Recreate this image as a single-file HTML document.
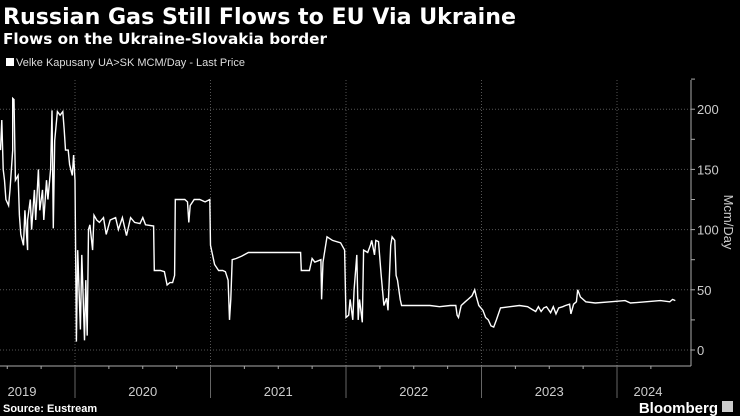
<!DOCTYPE html>
<html><head><meta charset="utf-8"><style>
body{margin:0;background:#000;width:740px;height:416px;overflow:hidden;font-family:"Liberation Sans",sans-serif;color:#fff}
svg{position:absolute;left:0;top:0}
</style></head><body>
<svg width="740" height="416">
<text x="3" y="24" font-size="22" font-weight="bold" font-family="DejaVu Sans, sans-serif" fill="#fff" textLength="513" lengthAdjust="spacingAndGlyphs">Russian Gas Still Flows to EU Via Ukraine</text>
<text x="3" y="44" font-size="15" font-weight="bold" font-family="DejaVu Sans, sans-serif" fill="#fff" textLength="324" lengthAdjust="spacingAndGlyphs">Flows on the Ukraine-Slovakia border</text>
<rect x="6" y="58" width="8" height="8" fill="#fff"/>
<text x="16" y="66" font-size="11" fill="#ddd">Velke Kapusany UA&gt;SK MCM/Day - Last Price</text>
<g id="grid"></g>
<g id="axes"></g>
<path id="line" fill="none" stroke="#fff" stroke-width="1.4"/>
<text transform="translate(724,222) rotate(90)" text-anchor="middle" font-size="13" fill="#ccc">Mcm/Day</text>
<text x="3" y="412" font-size="11" font-weight="bold" fill="#fff">Source: Eustream</text>
<text x="718" y="413" text-anchor="end" font-size="15" font-weight="bold" fill="#fff">Bloomberg</text>
<rect x="722" y="401" width="11" height="11" fill="#ccc"/>
</svg>
<script>
const dates=[2019.45,2019.46,2019.47,2019.48,2019.49,2019.51,2019.52,2019.54,2019.54,2019.55,2019.56,2019.58,2019.59,2019.60,2019.62,2019.63,2019.65,2019.65,2019.67,2019.68,2019.70,2019.71,2019.73,2019.74,2019.76,2019.77,2019.79,2019.80,2019.82,2019.83,2019.84,2019.85,2019.87,2019.89,2019.91,2019.92,2019.93,2019.95,2019.96,2019.98,2019.99,2020.00,2020.01,2020.02,2020.04,2020.05,2020.07,2020.08,2020.09,2020.10,2020.11,2020.13,2020.14,2020.16,2020.18,2020.21,2020.23,2020.26,2020.30,2020.32,2020.35,2020.38,2020.41,2020.44,2020.48,2020.50,2020.52,2020.58,2020.585,2020.63,2020.66,2020.68,2020.70,2020.72,2020.735,2020.74,2020.77,2020.81,2020.83,2020.84,2020.85,2020.88,2020.92,2020.96,2020.995,2021.00,2021.03,2021.06,2021.09,2021.11,2021.13,2021.14,2021.15,2021.16,2021.19,2021.23,2021.28,2021.34,2021.44,2021.55,2021.665,2021.67,2021.73,2021.75,2021.77,2021.815,2021.82,2021.83,2021.86,2021.90,2021.96,2021.99,2022.00,2022.02,2022.03,2022.05,2022.06,2022.08,2022.09,2022.10,2022.12,2022.13,2022.16,2022.18,2022.19,2022.21,2022.22,2022.24,2022.26,2022.28,2022.30,2022.31,2022.33,2022.34,2022.36,2022.37,2022.38,2022.40,2022.41,2022.47,2022.62,2022.69,2022.77,2022.81,2022.82,2022.83,2022.85,2022.88,2022.90,2022.93,2022.95,2022.96,2022.98,2023.01,2023.03,2023.05,2023.07,2023.09,2023.11,2023.14,2023.21,2023.28,2023.34,2023.37,2023.40,2023.42,2023.44,2023.46,2023.48,2023.51,2023.53,2023.55,2023.57,2023.60,2023.62,2023.65,2023.66,2023.68,2023.70,2023.71,2023.73,2023.75,2023.77,2023.84,2023.95,2024.06,2024.10,2024.21,2024.32,2024.39,2024.41,2024.43];
const flows=[166,191,150,141,125,120,133,166,209,208,141,145,112,96,87,116,83,108,125,100,133,108,150,116,133,108,141,125,150,199,101,174,198,195,198,183,166,166,154,145,162,141,7,83,17,79,8,58,12,100,104,83,112,108,106,110,96,108,110,100,110,95,110,106,105,110,104,103,66,66,65,54,56,56,62,125,125,125,123,106,120,125,125,123,125,87,71,66,66,65,58,25,42,75,76,78,81,81,81,81,81,66,66,76,73,75,42,73,94,91,89,83,27,29,42,25,50,79,25,42,23,83,81,87,91,79,91,90,62,37,43,33,87,94,91,62,58,42,37,37,37,36,37,37,29,27,37,40,42,45,50,45,37,33,27,25,20,19,25,35,36,37,36,34,32,36,32,35,36,31,36,30,35,36,37,38,30,38,40,50,44,42,40,39,40,41,39,40,41,40,42,41];
const yTicks=[0,50,100,150,200];
const years=[2019,2020,2021,2022,2023,2024];
const X=t=>75+(t-2020)*135.5;
const Y=v=>350-v*1.204;
const ns="http://www.w3.org/2000/svg";
const grid=document.getElementById('grid'),axes=document.getElementById('axes');
function mk(tag,attrs,parent){const e=document.createElementNS(ns,tag);for(const k in attrs)e.setAttribute(k,attrs[k]);parent.appendChild(e);return e;}
yTicks.forEach(v=>{
 const g=mk('line',{x1:0,x2:691,y1:Y(v),y2:Y(v),stroke:'#555','stroke-dasharray':'1,2'},grid);
 
 
 const t=mk('text',{x:697,y:Y(v)+5,'font-size':13,fill:'#ccc'},axes);
 t.textContent=v;
 
 
});
for(let v=0;v<=225;v+=25){mk('line',{x1:691,x2:695,y1:Y(v),y2:Y(v),stroke:'#aaa'},axes);}
mk('line',{x1:691,x2:691,y1:80,y2:366,stroke:'#aaa'},axes);
mk('line',{x1:0,x2:691,y1:366,y2:366,stroke:'#aaa'},axes);
for(let q=2019.25;q<2024.5;q+=0.25){const x=X(q);if(x>0&&x<691)mk('line',{x1:x,x2:x,y1:366,y2:369,stroke:'#aaa'},axes);}
years.forEach(yr=>{
 const x=X(yr);
 if(x>0){
  const g=mk('line',{x1:x,x2:x,y1:80,y2:366,stroke:'#555','stroke-dasharray':'1,2'},grid);
  
  
  mk('line',{x1:x,x2:x,y1:366,y2:398,stroke:'#666'},axes);
 }
 const cx=X(yr)+67.75;
 const t=mk('text',{x:yr===2019?22:(yr===2024?648:cx),y:396,'font-size':13,fill:'#ccc','text-anchor':'middle'},axes);
 t.textContent=yr;
 
 
});
document.getElementById('line').setAttribute('d',dates.map((d,i)=>(i?'L':'M')+X(d).toFixed(1)+','+Y(flows[i]).toFixed(1)).join(''));
</script>
</body></html>
